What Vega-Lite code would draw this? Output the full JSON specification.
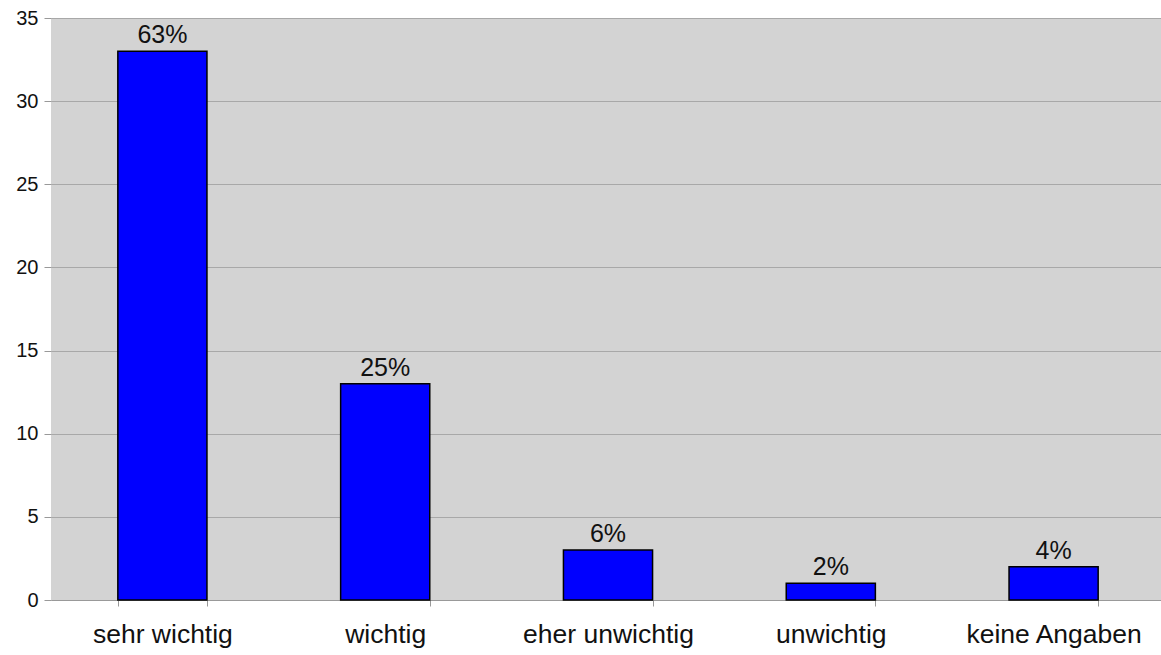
{
  "$schema": "https://vega.github.io/schema/vega-lite/v6.json",
  "width": 1114,
  "height": 582,
  "autosize": {"type": "none"},
  "padding": {"left": 51, "top": 18, "right": 0, "bottom": 55},
  "background": "white",
  "config": {
    "font": "Liberation Sans",
    "view": {"fill": "#d3d3d3", "stroke": null}
  },
  "data": {
    "values": [
      {"antwort": "sehr wichtig", "anzahl": 33, "anteil": "63%"},
      {"antwort": "wichtig", "anzahl": 13, "anteil": "25%"},
      {"antwort": "eher unwichtig", "anzahl": 3, "anteil": "6%"},
      {"antwort": "unwichtig", "anzahl": 1, "anteil": "2%"},
      {"antwort": "keine Angaben", "anzahl": 2, "anteil": "4%"}
    ]
  },
  "encoding": {
    "x": {
      "field": "antwort",
      "type": "nominal",
      "sort": null,
      "scale": {"paddingInner": 0.6, "paddingOuter": 0.3},
      "axis": {
        "title": null,
        "labelAngle": 0,
        "labelFontSize": 26.5,
        "labelColor": "#111",
        "labelPadding": 15,
        "tickBand": "extent",
        "tickSize": 6,
        "tickColor": "#999",
        "domainColor": "#999",
        "grid": false
      }
    },
    "y": {
      "field": "anzahl",
      "type": "quantitative",
      "scale": {"domain": [0, 35]},
      "axis": {
        "title": null,
        "values": [0, 5, 10, 15, 20, 25, 30, 35],
        "labelFontSize": 20,
        "labelColor": "#111",
        "labelPadding": 6,
        "tickSize": 7,
        "tickColor": "#999",
        "domain": false,
        "gridColor": "#a8a8a8",
        "gridWidth": 1
      }
    }
  },
  "layer": [
    {
      "mark": {"type": "bar", "color": "#0000ff", "stroke": "#000000", "strokeWidth": 1.5}
    },
    {
      "mark": {"type": "text", "baseline": "bottom", "dy": -3, "fontSize": 25, "color": "#111"},
      "encoding": {"text": {"field": "anteil"}}
    }
  ]
}
